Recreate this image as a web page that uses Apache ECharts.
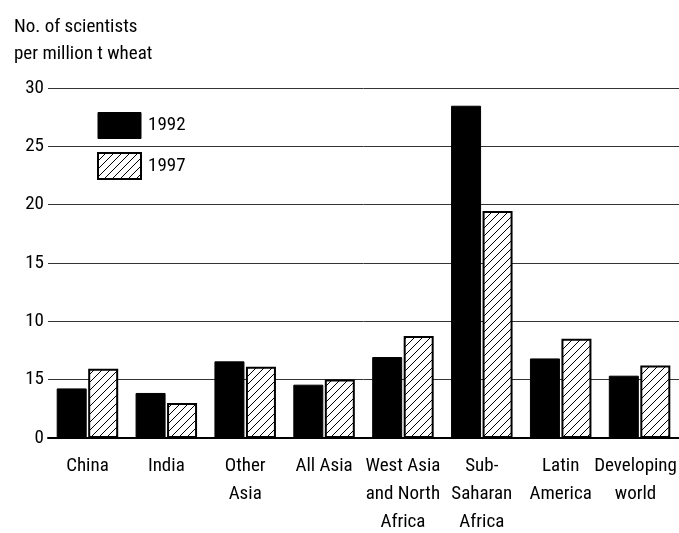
<!DOCTYPE html>
<html><head><meta charset="utf-8">
<script src="https://cdn.jsdelivr.net/npm/echarts@6/dist/echarts.min.js"></script>
<style>html,body{margin:0;padding:0;background:#fff;overflow:hidden}#c{width:679px;height:533px}</style>
</head><body><div id="c"></div>
<script>
var categories = ['China','India','Other\nAsia','All Asia','West Asia\nand North\nAfrica','Sub-\nSaharan\nAfrica','Latin\nAmerica','Developing\nworld'];
var values1992 = [4.25, 3.86, 6.57, 4.57, 6.94, 28.48, 6.82, 5.34];
var values1997 = [5.94, 3.0, 6.11, 5.02, 8.74, 19.45, 8.51, 6.22];
var yTickLabels = ['0','15','10','15','20','25','30'];
var seriesNames = ['1992','1997'];
var titleLines = ['No. of scientists','per million t wheat'];

var FONT = '"Roboto Condensed","Liberation Sans Narrow",sans-serif';

var pc = document.createElement('canvas');
pc.width = 8; pc.height = 8;
var g = pc.getContext('2d');
g.fillStyle = '#fff'; g.fillRect(0,0,8,8);
g.strokeStyle = '#000'; g.lineWidth = 1;
g.beginPath();
g.moveTo(-1,9); g.lineTo(9,-1);
g.moveTo(-1,1); g.lineTo(1,-1);
g.moveTo(7,9); g.lineTo(9,7);
g.stroke();
var hatch = {image: pc, repeat: 'repeat'};

var xData = categories.map(function(c, i){
  return i === categories.length - 1 ? {value: c, textStyle: {padding: [0, 8, 0, 0]}} : c;
});

var chart = echarts.init(document.getElementById('c'), null, {renderer:'canvas'});
chart.setOption({
  animation: false,
  backgroundColor: '#fff',
  title: {
    text: titleLines.join('\n'), left: 14, top: 14, padding: 0,
    textStyle: {fontFamily: FONT, fontSize: 19, fontWeight: 'normal', color: '#000', lineHeight: 27}
  },
  legend: {
    orient: 'vertical', left: 97, top: 112, padding: 0, itemWidth: 43, itemHeight: 26, itemGap: 13,
    textStyle: {fontFamily: FONT, fontSize: 19, color: '#000', padding: [0,0,0,2]},
    data: [
      {name: seriesNames[0], icon: 'rect', itemStyle: {color: '#000', borderColor: '#000', borderWidth: 1}},
      {name: seriesNames[1], icon: 'rect', itemStyle: {color: hatch, borderColor: '#000', borderWidth: 2}}
    ]
  },
  grid: {left: 48, right: 0, top: 88, bottom: 95, containLabel: false, outerBoundsMode: 'none'},
  xAxis: {
    type: 'category', data: xData,
    axisLine: {lineStyle: {color: '#000', width: 2}},
    axisTick: {alignWithLabel: true, length: 6, lineStyle: {color: '#000', width: 1}},
    axisLabel: {fontFamily: FONT, fontSize: 19, color: '#000', margin: 14, lineHeight: 28, interval: 0}
  },
  yAxis: {
    type: 'value', min: 0, max: 30, interval: 5,
    axisLine: {show: false}, axisTick: {show: false},
    splitLine: {lineStyle: {color: '#333', width: 1}},
    axisLabel: {fontFamily: FONT, fontSize: 19, color: '#000', margin: 4,
      formatter: function(v){ return yTickLabels[Math.round(v/5)]; }}
  },
  series: [
    {name: seriesNames[0], type: 'bar', data: values1992, barWidth: 30, barGap: '5%',
     itemStyle: {color: '#000', borderColor: '#000', borderWidth: 1}},
    {name: seriesNames[1], type: 'bar', data: values1997, barWidth: 30,
     itemStyle: {color: hatch, borderColor: '#000', borderWidth: 2}}
  ]
});
</script></body></html>
